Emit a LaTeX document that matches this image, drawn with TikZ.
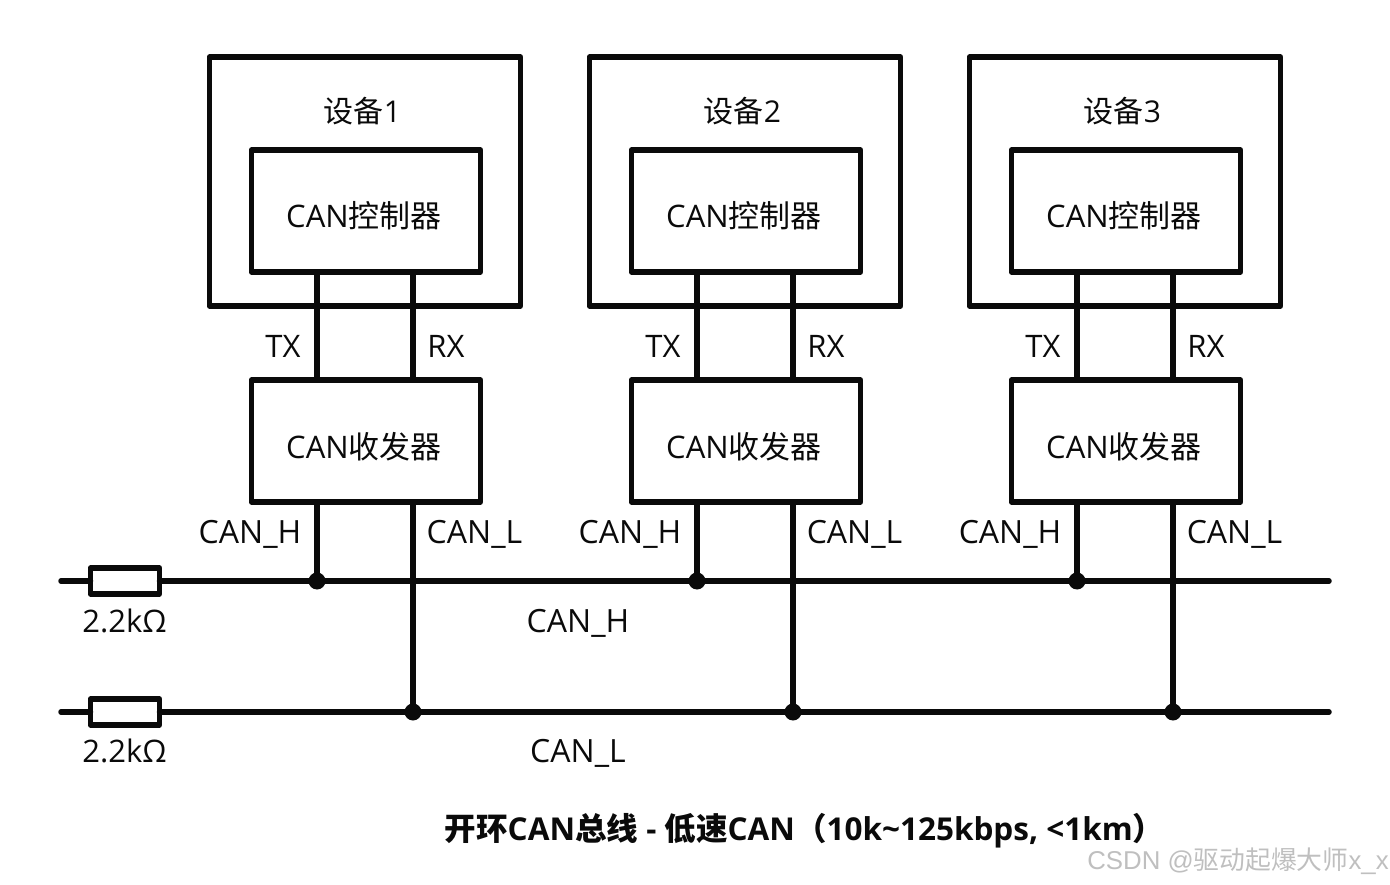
\documentclass[tikz,border=0pt]{standalone}
\usepackage{fontspec}
\setmainfont{Open Sans}
\newfontfamily\cjk{Noto Sans CJK SC}
\newfontfamily\marksans{Liberation Sans}
\newcommand{\zh}[1]{{\cjk #1}}
\definecolor{ink}{HTML}{0A0A0A}
\tikzset{
  x=1pt,y=-1pt,
  box/.style={draw=ink,line width=5.5pt,line join=round,fill=white,inner sep=0pt,outer sep=0pt},
  device/.style={box,minimum width=311pt,minimum height=249pt},
  unit/.style={box,minimum width=229pt,minimum height=122pt},
  resistor/.style={box,minimum width=69pt,minimum height=26pt},
  wire/.style={draw=ink,line width=5.5pt},
  bus/.style={wire,line cap=round},
  dot/.style={circle,fill=ink,minimum size=17pt,inner sep=0pt,outer sep=0pt},
  lbl/.style={font=\fontsize{31}{31}\selectfont,text=ink,inner sep=0pt,anchor=center},
  canlbl/.style={lbl,font=\fontsize{32}{32}\selectfont},
}
\begin{document}
\begin{tikzpicture}
\useasboundingbox (0,0) rectangle (1390,885);
% bus end points and junctions
\coordinate (hw) at (61,581);
\coordinate (he) at (1329,581);
\coordinate (lw) at (61,712);
\coordinate (le) at (1329,712);
\foreach \n/\dx in {1/0,2/380,3/760}{
  \node[device] (dev\n) at (365+\dx,181.5) {};
  \node[lbl,font=\fontsize{30}{30}\selectfont] (devname\n) at (362.5+\dx,111) {\zh{设备}\n};
  \node[unit] (ctrl\n) at (366+\dx,211) {};
  \node[unit] (trx\n) at (366+\dx,441) {};
  \node[lbl] (ctrltext\n) at (364+\dx,216) {CAN\zh{控制器}};
  \node[lbl] (trxtext\n) at (364+\dx,447) {CAN\zh{收发器}};
  \node[lbl] (tx\n) at (283+\dx,346.5) {TX};
  \node[lbl] (rx\n) at (446+\dx,346.5) {RX};
  \node[canlbl] (canh\n) at (250+\dx,534) {CAN\_H};
  \node[canlbl] (canl\n) at (474.5+\dx,534) {CAN\_L};
  \coordinate (hx\n) at (317+\dx,581);
  \coordinate (lx\n) at (413+\dx,712);
}
\node[resistor] (r1) at (125,581) {};
\node[resistor] (r2) at (125,712) {};
\draw[bus] (hw) -- (r1.west) (r1.east) -- (he);
\draw[bus] (lw) -- (r2.west) (r2.east) -- (le);
\foreach \n in {1,2,3}{
  \draw[wire] (ctrl\n.south -| hx\n) -- (trx\n.north -| hx\n);
  \draw[wire] (ctrl\n.south -| lx\n) -- (trx\n.north -| lx\n);
  \node[dot] (dh\n) at (hx\n) {};
  \node[dot] (dl\n) at (lx\n) {};
  \draw[wire] (trx\n.south -| hx\n) -- (dh\n.center);
  \draw[wire] (trx\n.south -| lx\n) -- (dl\n.center);
}
\node[lbl] (rv1) at (124.5,621) {2.2kΩ};
\node[lbl] (rv2) at (124.5,751) {2.2kΩ};
\node[canlbl] (busH) at (578,623) {CAN\_H};
\node[canlbl] (busL) at (578,753) {CAN\_L};
\node[lbl,font=\fontsize{31.5}{31.5}\selectfont\bfseries] (title) at (804.5,831) {\zh{开环}CAN\zh{总线} - \zh{低速}CAN\zh{（}10k\textasciitilde125kbps, <1km\zh{）}};
\node[lbl,font=\fontsize{25.8}{25.8}\selectfont\marksans,text=black!25] (mark) at (1238,861) {CSDN @\zh{驱动起爆大师}x\_x};
\end{tikzpicture}
\end{document}
